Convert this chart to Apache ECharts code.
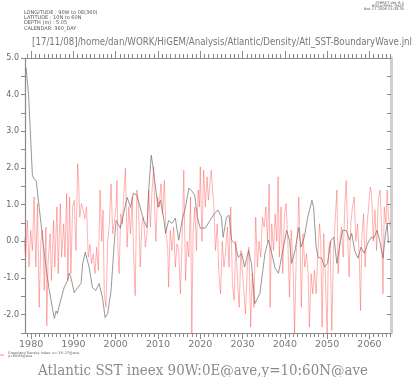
<!DOCTYPE html>
<html>
<head>
<meta charset="utf-8">
<script src="https://cdn.jsdelivr.net/npm/echarts@6/dist/echarts.min.js"></script>
<style>
html,body{margin:0;padding:0;background:#fff;}
#main{width:415px;height:377px;}
</style>
</head>
<body>
<div id="main"></div>
<script>
// black line: Atlantic SST index
var blackYears = [1978.8,1979.4,1979.9,1980.3,1980.7,1981.2,1981.9,1982.7,1983.5,1984.3,1985.0,1985.5,1985.9,1986.2,1987.0,1987.8,1988.6,1989.0,1989.4,1990.2,
	1991.0,1991.8,1992.2,1992.8,1993.7,1994.5,1995.3,1996.1,1996.9,1997.5,1998.1,1998.9,1999.7,2000.1,2001.1,2001.9,2002.7,2003.5,2004.2,2005.0,
	2005.8,2006.6,2007.4,2007.8,2008.4,2008.7,2009.4,2010.0,2010.6,2011.4,2011.8,2012.5,2013.3,2014.1,2014.9,2015.7,2016.5,2017.3,2017.9,2018.7,
	2019.3,2020.0,2021.2,2022.3,2023.4,2024.2,2025.0,2025.4,2026.2,2026.8,2027.4,2028.2,2029.0,2029.8,2030.5,2031.4,2032.1,2032.5,2032.9,2033.3,
	2034.1,2034.7,2035.3,2036.1,2036.9,2037.7,2038.5,2039.2,2040.0,2040.4,2041.1,2041.6,2042.4,2043.3,2043.8,2044.6,2045.4,2045.8,2046.4,2046.8,
	2047.4,2047.9,2048.7,2049.4,2050.1,2050.9,2051.6,2052.3,2053.2,2053.7,2054.5,2055.3,2055.8,2056.5,2057.3,2058.0,2058.8,2059.6,2060.4,2061.0,
	2061.8,2062.4,2063.2,2063.7,2064.2,2064.5];
var blackValues = [4.73,4.0,2.76,1.8,1.7,1.65,0.93,0.1,-0.7,-1.34,-1.8,-2.1,-1.9,-1.97,-1.6,-1.26,-1.07,-0.87,-0.98,-1.4,
	-1.26,-1.15,-0.6,-0.3,-0.7,-1.26,-1.34,-1.15,-1.56,-2.08,-1.97,-1.34,0.03,0.57,0.36,0.77,1.2,0.93,1.31,1.26,
	0.93,0.57,0.38,1.39,2.35,2.13,1.48,0.93,1.12,0.57,0.22,0.57,0.49,0.63,0.03,0.57,0.93,1.45,1.39,1.26,
	0.66,0.36,0.36,0.57,0.77,0.85,0.66,0.11,0.66,0.71,0.03,-0.05,-0.44,-0.33,-0.7,-0.25,-0.6,-1.15,-1.7,-1.75,
	-1.42,-0.87,-0.33,0.03,-0.33,-0.74,-0.87,-0.44,0.03,0.3,0.03,-0.6,-0.25,0.38,-0.16,0.11,0.66,0.71,1.12,0.93,
	-0.16,-0.44,-0.46,-0.7,-0.6,0.03,0.11,-0.6,0.03,0.3,0.3,0.03,0.22,-0.25,-0.46,-0.16,-0.33,-0.05,0.11,0.08,
	0.3,0.03,-0.46,0.11,0.49,-0.05];

// red line: Greenland density index
var redYears = [1978.3,1978.7,1979.1,1979.5,1979.9,1980.3,1980.7,1981.1,1981.5,1981.9,1982.3,1982.7,1983.1,1983.5,1983.7,1984.0,1984.5,1984.8,1985.3,1985.6,
	1986.1,1986.4,1986.9,1987.2,1987.7,1988.0,1988.4,1988.7,1989.1,1989.4,1989.8,1990.2,1990.6,1991.0,1991.2,1991.5,1991.9,1992.3,1992.7,1993.1,
	1993.5,1993.9,1994.3,1994.7,1995.1,1995.5,1995.9,1996.3,1996.7,1997.0,1997.3,1997.7,1998.1,1998.5,1998.9,1999.3,1999.7,2000.1,
	2000.3,2000.5,2000.8,2001.2,2001.6,2002.0,2002.3,2002.7,2003.1,2003.5,2003.9,2004.2,2004.6,2005.0,2005.4,2005.8,2006.2,2006.6,2007.0,2007.4,
	2007.8,2008.2,2008.6,2009.0,2009.2,2009.5,2009.9,2010.3,2010.7,2011.1,2011.5,2011.9,2012.3,2012.5,2012.9,2013.3,2013.7,2014.1,2014.5,2014.9,
	2015.3,2015.7,2016.1,2016.5,2016.9,2017.3,2017.7,2018.0,2018.3,2018.7,2019.1,2019.5,2019.8,2020.0,2020.4,2020.8,2021.2,2021.6,
	2021.9,2022.3,2022.6,2022.9,2023.2,2023.6,2024.0,2024.4,2024.8,2025.2,2025.6,2026.0,2026.4,2026.8,2027.2,2027.6,2028.0,2028.4,2028.8,2029.2,
	2029.6,2030.0,2030.3,2030.7,2031.1,2031.5,2031.9,2032.3,2032.7,2033.1,2033.5,2033.9,2034.3,2034.7,2035.1,2035.5,2035.9,2036.3,2036.5,2036.9,
	2037.3,2037.7,2038.1,2038.4,2038.7,2039.1,2039.5,2039.9,2040.3,2040.7,2041.1,2041.5,2041.9,2042.3,2042.7,2043.1,
	2043.3,2043.6,2043.9,2044.3,2044.7,2045.1,2045.5,2045.8,2046.2,2046.6,2047.0,2047.4,2047.8,2048.2,2048.5,2048.8,2049.2,2049.6,2050.0,2050.3,
	2050.7,2051.1,2051.5,2051.9,2052.3,2052.6,2053.0,2053.4,2053.8,2054.2,2054.5,2054.9,2055.2,2055.6,2056.0,2056.4,2056.8,2057.2,2057.6,2057.9,
	2058.2,2058.6,2059.0,2059.4,2059.8,2060.2,2060.5,2060.9,2061.3,2061.7,2062.1,2062.5,2062.9,2063.2,2063.5,2063.9,2064.2,2064.5,2064.9];
var redValues = [0.12,-0.43,0.57,-0.7,0.3,-0.25,1.21,-0.7,1.03,-1.8,0,0.3,-1.34,0.39,-2.3,-0.6,0.21,-1.07,0.57,-0.7,
	0.94,-0.88,1.03,-0.43,0.48,-0.43,1.3,-1.07,1.21,-0.88,0.94,1.12,-0.25,2.12,1.76,0.66,1.03,0.85,0.62,0.94,
	-0.43,-0.09,-0.6,-0.34,-0.88,-0.16,-0.79,1.4,0,0.85,-1.43,-1.8,0,0.48,1.57,0.21,0.57,0.94,
	1.66,-0.16,-0.88,0.75,0.48,1.48,1.99,-0.16,0.94,0.21,1.21,-0.25,-1.48,1.4,0.94,-0.7,0.48,0.66,-0.16,0.21,
	1.4,0.39,1.4,2.03,0.94,0,1.21,0.94,1.57,0.75,1.66,0.21,-0.16,-1.25,0.3,-0.25,0.39,-0.7,-0.07,-0.25,
	-1.43,0,1.94,-1.07,0,-0.43,1.21,-2.52,0.21,0.94,-0.25,1.4,0.94,2.03,0,1.94,0.94,1.76,
	1.12,1.57,1.94,1.4,0.94,-0.25,0.48,-0.88,-1.43,0,-0.7,-0.25,0.39,-0.7,0.94,-1.16,-1.61,0,-1.07,-1.8,
	-0.25,-0.88,-1.34,-1.98,-0.7,-0.16,-2.34,-0.88,-1.8,0.66,-0.7,0,-0.43,0.66,0.39,0.94,0,1.57,-1.8,0.48,
	-0.25,0.75,0,1.76,-0.43,0.94,-0.88,0.75,1.03,0,-1.52,0.3,-0.52,-2.52,-0.34,0.48,
	1.21,0,-1.8,0.21,-0.7,-0.34,-0.88,-2.34,-0.88,-1.43,-0.79,-1.43,-0.34,0.48,0,-2.34,0.21,-1.07,-2.52,-0.25,
	0,-2.43,-0.25,0.57,1.4,-0.88,0,0.39,-0.43,1.03,1.66,0,-0.97,0.48,0.94,1.21,0,0.48,-0.43,-1.89,
	0.09,0.75,-0.7,0.39,0.94,1.48,1.3,0,0.85,-0.25,1.12,1.4,0.39,-1.43,0.94,0.48,1.4,0.66,0.39];

var decadeTicks = [1980,1990,2000,2010,2020,2030,2040,2050,2060];
var yearTicks = [];
for (var y = 1979; y <= 2065; y++) yearTicks.push(y);

var headerLeft = ['LONGITUDE : 90W to 0E(360)','LATITUDE : 10N to 60N','DEPTH (m) : 5.05','CALENDAR: 360_DAY'];
var headerRight = ['FERRET Ver. 6.1','NOAA/PMEL TMAP','Nov 17 2008 15:33:35'];
var pathTitle = '[17/11/08]/home/dan/WORK/HiGEM/Analysis/Atlantic/Density/Atl_SST-BoundaryWave.jnl';
var mainTitle = 'Atlantic SST ineex 90W:0E@ave,y=10:60N@ave';

function zip(a, b) {
	var out = [];
	for (var i = 0; i < a.length; i++) out.push([a[i], b[i]]);
	return out;
}

// horizontal squeeze so a text fills a given width
var mctx = document.createElement('canvas').getContext('2d');
function fitScale(text, font, width) {
	mctx.font = font;
	return width / mctx.measureText(text).width;
}

var chart = echarts.init(document.getElementById('main'));

var axisGray = '#8a8a8a';
var xMin = 1978.55, xMax = 2065.1;

function xAx(pos, ticks, len, showLine, labels) {
	return {
		type: 'value', position: pos, min: xMin, max: xMax,
		splitLine: {show: false},
		axisLine: {show: showLine, onZero: false, lineStyle: {color: axisGray, width: 1}},
		axisTick: {show: true, customValues: ticks, length: len, lineStyle: {color: axisGray}},
		axisLabel: labels ? {show: true, customValues: decadeTicks, color: '#777', fontSize: 9.5,
			fontFamily: 'DejaVu Sans', margin: 7, formatter: function (v) { return String(Math.round(v)); }} : {show: false}
	};
}

var titleFont = '10px "DejaVu Sans"';
var bottomFont = '15px "DejaVu Serif"';

var graphics = [];
headerLeft.forEach(function (t, i) {
	graphics.push({type: 'text', left: 24, top: 10 + i * 5.3,
		style: {text: t, font: '5px "DejaVu Sans"', fill: '#555'}});
});
headerRight.forEach(function (t, i) {
	graphics.push({type: 'text', x: 404, y: 1 + i * 3.2,
		style: {text: t, font: '3.6px "DejaVu Sans"', fill: '#555', textAlign: 'right', textVerticalAlign: 'top'}});
});
graphics.push({type: 'text', x: 32, y: 42, scaleX: fitScale(pathTitle, titleFont, 380),
	style: {text: pathTitle, font: titleFont, fill: '#777', textVerticalAlign: 'middle'}});
graphics.push({type: 'text', x: 38, y: 371, scaleX: fitScale(mainTitle, bottomFont, 330),
	style: {text: mainTitle, font: bottomFont, fill: '#8a8a8a', textVerticalAlign: 'middle'}});
graphics.push({type: 'text', x: 8, y: 354.5,
	style: {text: 'Greenland Density Index: x=-35:-27@ave,\ny=60:65@ave', font: '3.4px "DejaVu Sans"', fill: '#555',
		textVerticalAlign: 'middle', lineHeight: 3.4}});
graphics.push({type: 'line', shape: {x1: 0, y1: 355, x2: 4, y2: 355}, style: {stroke: '#ff6060', lineWidth: 0.8}});

var option = {
	backgroundColor: '#fff',
	animation: false,
	grid: {left: 25, right: 24, top: 58, bottom: 44},
	xAxis: [
		xAx('bottom', yearTicks, 4, true, true),
		xAx('bottom', decadeTicks, 6, false, false),
		xAx('top', yearTicks, 4, true, false),
		xAx('top', decadeTicks, 7, false, false)
	],
	yAxis: [{
		type: 'value', min: -2.5, max: 5, interval: 0.5,
		splitLine: {show: false},
		axisLine: {show: true, onZero: false, lineStyle: {color: axisGray, width: 1.2}},
		axisTick: {show: true, length: 4, lineStyle: {color: axisGray}},
		axisLabel: {
			color: '#666', fontSize: 8, fontFamily: 'DejaVu Sans', margin: 6,
			formatter: function (v) {
				if (Math.abs(v - Math.round(v)) > 1e-6) return '';
				return v.toFixed(1);
			}
		}
	}, {
		type: 'value', position: 'right', min: -2.5, max: 5, interval: 0.5,
		splitLine: {show: false},
		axisLine: {show: true, onZero: false, lineStyle: {color: '#cfcfcf', width: 3}},
		axisTick: {show: true, inside: true, length: 4, lineStyle: {color: axisGray}},
		axisLabel: {show: false}
	}],
	series: [{
		type: 'line', data: zip(blackYears, blackValues), showSymbol: false,
		lineStyle: {color: '#6a6a6a', width: 0.7}
	}, {
		type: 'line', data: zip(redYears, redValues), showSymbol: false,
		lineStyle: {color: '#ff3a3a', width: 0.6, opacity: 0.65}
	}],
	graphic: graphics
};
chart.setOption(option);
</script>
</body>
</html>
